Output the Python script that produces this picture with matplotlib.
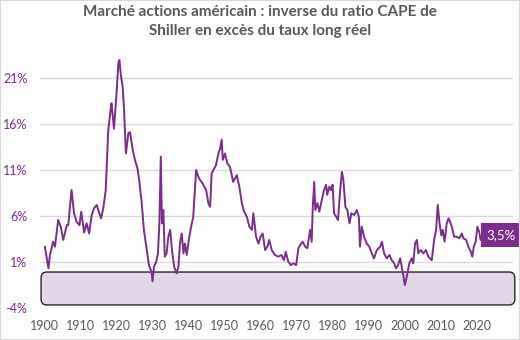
import matplotlib
matplotlib.use("Agg")
import matplotlib.pyplot as plt
from matplotlib.patches import FancyBboxPatch, Rectangle

# data (year, % excess yield)
years = [
    1900.1, 1901.1, 1901.5, 1902.4, 1902.9, 1903.4, 1903.8, 1904.5, 1905.2, 1906.2,
    1906.6, 1907.5, 1908.2, 1908.9, 1909.7, 1910.2, 1911.0, 1911.7, 1912.4, 1913.1,
    1913.75, 1914.5, 1915.2, 1915.7, 1916.3, 1917.0, 1917.7, 1918.4, 1918.6, 1919.3,
    1920.0, 1920.5, 1920.8, 1921.2, 1921.7, 1922.1, 1922.6, 1923.3, 1923.75, 1924.5,
    1925.1, 1925.8, 1926.3, 1927.0, 1927.6, 1928.4, 1929.0, 1929.7, 1930.0, 1930.4,
    1931.0, 1931.5, 1931.9, 1932.3, 1932.6, 1933.0, 1933.4, 1933.9, 1934.4, 1934.9,
    1935.4, 1936.0, 1936.7, 1937.2, 1937.6, 1938.1, 1938.6, 1939.0, 1939.5, 1940.2,
    1940.9, 1941.3, 1942.1, 1942.7, 1943.2, 1943.9, 1944.9, 1945.5, 1946.0, 1946.4,
    1946.9, 1947.6, 1948.3, 1948.75, 1949.2, 1949.5, 1950.1, 1950.8, 1951.5, 1952.4,
    1953.4, 1954.1, 1954.8, 1955.4, 1956.2, 1956.9, 1957.6, 1958.0, 1958.75, 1959.4,
    1960.0, 1960.6, 1961.25, 1961.9, 1962.4, 1963.1, 1964.0, 1964.9, 1965.8, 1966.5,
    1967.0, 1967.7, 1968.4, 1969.1, 1969.9, 1970.5, 1971.0, 1971.7, 1972.4, 1973.0,
    1973.75, 1974.2, 1974.5, 1974.9, 1975.2, 1975.8, 1976.3, 1977.0, 1977.6, 1978.2,
    1978.5, 1979.1, 1979.6, 1980.0, 1980.4, 1981.0, 1981.5, 1982.1, 1982.6, 1983.0,
    1983.55, 1984.1, 1984.7, 1985.2, 1986.0, 1986.7, 1987.3, 1987.6, 1988.1, 1988.75,
    1989.5, 1990.2, 1990.9, 1991.5, 1992.3, 1993.2, 1993.7, 1994.3, 1995.05, 1995.8,
    1996.4, 1997.1, 1997.6, 1998.2, 1998.75, 1999.2, 1999.7, 2000.05, 2000.6, 2001.3,
    2002.0, 2002.4, 2002.9, 2003.4, 2003.8, 2004.5, 2005.2, 2005.9, 2006.6, 2007.55,
    2008.2, 2008.75, 2009.2, 2009.7, 2010.2, 2010.6, 2011.1, 2011.7, 2012.2, 2012.6,
    2013.1, 2013.75, 2014.5, 2015.2, 2015.9, 2016.3, 2017.1, 2017.7, 2018.4, 2018.8,
    2019.2, 2019.75, 2020.2, 2020.7, 2021.1, 2021.5,
]
values = [
    2.66, 0.31, 1.76, 3.2, 2.66, 4.3, 5.57, 4.84, 3.4, 5.0,
    5.0, 8.83, 6.3, 5.38, 5.0, 6.47, 4.2, 5.2, 4.1, 6.1,
    6.83, 7.2, 6.3, 5.75, 6.8, 8.8, 15.3, 17.7, 18.25, 15.5,
    19.3, 22.6, 22.96, 21.3, 20.05, 17.5, 12.8, 15.0, 15.1, 13.2,
    12.1, 11.2, 9.9, 7.4, 4.5, 2.3, 0.67, -0.05, -1.1, 0.5,
    1.0, 1.94, 5.2, 12.45, 5.2, 6.65, 1.58, 1.94, 3.75, 4.5,
    2.3, 0.5, -0.23, 0.5, 3.0, 4.1, 1.94, 3.0, 1.76, 3.75,
    5.2, 5.9, 11.0, 10.3, 9.9, 9.55, 8.8, 7.4, 7.0, 10.6,
    11.0, 11.5, 12.8, 13.3, 14.3, 12.1, 12.8, 11.7, 11.35, 9.7,
    10.45, 9.2, 7.4, 6.5, 5.9, 4.84, 4.5, 6.3, 3.75, 3.0,
    3.75, 4.1, 2.3, 2.66, 3.4, 2.3, 1.76, 1.58, 1.76, 1.2,
    2.1, 1.03, 0.67, 0.86, 0.67, 2.5, 2.85, 3.2, 2.66, 2.5,
    4.5, 3.2, 7.0, 9.7, 6.65, 7.4, 6.47, 7.75, 8.8, 9.4,
    8.3, 9.2, 8.8, 9.4, 6.3, 5.9, 5.57, 8.8, 10.8, 9.9,
    7.0, 6.65, 5.2, 6.3, 6.1, 6.65, 5.9, 2.66, 4.84, 3.75,
    3.0, 2.66, 1.94, 1.4, 2.3, 2.66, 3.2, 1.94, 1.4, 1.76,
    1.2, 0.86, 0.31, 0.67, 1.4, 0.5, -0.6, -1.5, -0.6, 0.86,
    1.4, 0.86, 3.0, 3.4, 1.94, 2.3, 1.94, 2.3, 1.58, 1.2,
    3.4, 4.5, 7.2, 5.2, 3.9, 4.5, 3.2, 5.2, 5.75, 5.38,
    4.84, 3.75, 3.75, 3.58, 4.1, 3.58, 3.4, 2.66, 2.1, 1.58,
    2.66, 3.2, 4.84, 4.3, 3.4, 3.5,
]
y_ticks = [-4, 1, 6, 11, 16, 21]
x_ticks = [1900, 1910, 1920, 1930, 1940, 1950, 1960, 1970, 1980, 1990, 2000, 2010, 2020]
band_low, band_high = -3.67, -0.09
last_label = "3,5%"

title = "Marché actions américain : inverse du ratio CAPE de\nShiller en excès du taux long réel"

PURPLE = "#7B2C8C"
GREY = "#595959"

plt.rcParams["font.family"] = ["Lato", "DejaVu Sans"]

fig = plt.figure(figsize=(5.2, 3.4), dpi=100)
ax = fig.add_axes([40 / 520, (340 - 308) / 340, 473 / 520, 257.6 / 340])

ax.plot(years, values, color=PURPLE, lw=1.4, zorder=3)

xmin, xmax = 1898.75, 2030.1
ax.set_xlim(xmin, xmax)
ax.set_ylim(-4, 24)

ax.set_yticks(y_ticks)
ax.set_yticklabels([f"{t}%" for t in y_ticks], color=PURPLE, fontsize=9)
ax.set_xticks(x_ticks)
ax.set_xticklabels([str(t) for t in x_ticks], color=GREY, fontsize=9)
ax.tick_params(length=0, axis="y", pad=9)
ax.tick_params(length=0, axis="x", pad=9)
ax.grid(axis="y", color="#D9D9D9", lw=1)
ax.set_axisbelow(True)
for s in ax.spines.values():
    s.set_visible(False)

# shaded band below zero
band = FancyBboxPatch(
    (xmin + 0.3, band_low), (xmax - xmin) + 0.2, band_high - band_low,
    boxstyle="round,pad=0,rounding_size=1.6", mutation_aspect=3.6 / 9.2,
    fc="#E4D6E9", ec="#262626", lw=1, zorder=2, clip_on=False,
)
ax.add_patch(band)

ax.text(years[-1] + 1.3, 3.9, last_label, color="white", fontsize=9.5,
        ha="left", va="center", zorder=4, clip_on=False,
        bbox=dict(boxstyle="square,pad=0.45", fc=PURPLE, ec="none"))

fig.suptitle(title, y=0.985, fontsize=11, fontweight="bold", color=GREY,
             linespacing=1.4)

fig.add_artist(Rectangle((0, 0), 1, 1, transform=fig.transFigure, fill=False,
                         ec="#D9D9D9", lw=1.5))

fig.savefig("out.png", dpi=100)
